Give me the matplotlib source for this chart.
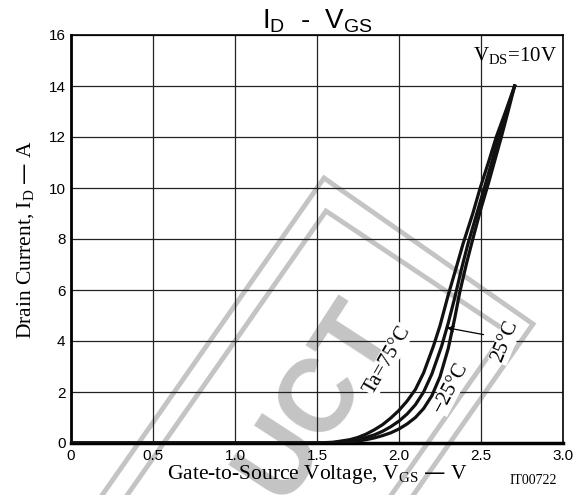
import matplotlib
matplotlib.use("Agg")
import matplotlib.pyplot as plt
import numpy as np

# drain current vs gate voltage, VDS = 10V
vgs_75 = [0, 1.5, 1.6, 1.7, 1.75, 1.8, 1.85, 1.9, 1.95, 2.0, 2.05, 2.1, 2.15, 2.21, 2.25, 2.30, 2.35, 2.39, 2.45, 2.495, 2.55, 2.593, 2.65, 2.705]
id_75 = [0, 0, 0.03, 0.13, 0.22, 0.35, 0.52, 0.72, 0.98, 1.28, 1.65, 2.1, 2.75, 3.8, 4.6, 5.8, 6.9, 7.8, 9.0, 10.0, 11.1, 12.0, 13.0, 14.0]

vgs_25 = [0, 1.55, 1.65, 1.7, 1.75, 1.8, 1.85, 1.9, 1.95, 2.0, 2.05, 2.1, 2.15, 2.2, 2.26, 2.3, 2.34, 2.38, 2.42, 2.47, 2.52, 2.565, 2.607, 2.655, 2.705]
id_25 = [0, 0, 0.04, 0.08, 0.14, 0.22, 0.32, 0.46, 0.64, 0.86, 1.14, 1.5, 2.0, 2.7, 3.8, 4.7, 5.7, 6.8, 7.8, 8.9, 10.0, 11.0, 12.0, 13.0, 14.0]

vgs_m25 = [0, 1.6, 1.7, 1.75, 1.8, 1.85, 1.9, 1.95, 2.0, 2.05, 2.1, 2.15, 2.2, 2.25, 2.3, 2.34, 2.37, 2.41, 2.45, 2.5, 2.546, 2.585, 2.624, 2.665, 2.705]
id_m25 = [0, 0, 0.04, 0.08, 0.13, 0.2, 0.29, 0.4, 0.55, 0.75, 1.0, 1.35, 1.85, 2.6, 3.7, 4.9, 5.9, 7.0, 8.0, 9.2, 10.2, 11.1, 12.0, 13.0, 14.0]

xticks = [0, 0.5, 1.0, 1.5, 2.0, 2.5, 3.0]
xlabels = ["0", "0.5", "1.0", "1.5", "2.0", "2.5", "3.0"]
yticks = [0, 2, 4, 6, 8, 10, 12, 14, 16]

serif = "Liberation Serif"
sans = "Liberation Sans"

fig = plt.figure(figsize=(5.87, 4.95), dpi=100)

# watermark layer (pixel coords of the page)
wm = fig.add_axes([0, 0, 1, 1], zorder=0)
wm.set_xlim(0, 587)
wm.set_ylim(495, 0)
wm.axis("off")
gray = "#c4c4c4"
top = np.array([324, 178])
right = np.array([533, 324])
down = np.array([-0.573, 0.819]) * 700
outer = np.array([top + down, top, right, right + down])
wm.plot(outer[:, 0], outer[:, 1], color=gray, lw=3.5, solid_joinstyle="miter")
top_i = np.array([326, 211])
right_i = np.array([506, 331])
inner = np.array([top_i + down, top_i, right_i, right_i + down])
wm.plot(inner[:, 0], inner[:, 1], color=gray, lw=3.5, solid_joinstyle="miter")
wm.text(318, 400, "UCT", rotation=57, color=gray, fontsize=74, fontweight="bold",
        family=sans, ha="center", va="center", rotation_mode="anchor", clip_on=True)

ax = fig.add_axes([71 / 587, 52 / 495, 492 / 587, 408 / 495], zorder=1)
ax.patch.set_alpha(0)

ax.plot(vgs_75, id_75, color="#111111", lw=2.3, zorder=3)
ax.plot(vgs_25, id_25, color="#111111", lw=2.3, zorder=3)
ax.plot(vgs_m25, id_m25, color="#111111", lw=2.3, zorder=3)

ax.set_xlim(0, 3.0)
ax.set_ylim(0, 16)
ax.set_xticks(xticks)
ax.set_xticklabels(xlabels, family=sans, fontsize=11)
ax.set_yticks(yticks)
ax.set_yticklabels([str(v) for v in yticks], family=sans, fontsize=11)
ax.tick_params(length=0, pad=4)
ax.grid(True, color="#222222", lw=0.9)
ax.set_axisbelow(True)
for s in ["top", "right"]:
    ax.spines[s].set_linewidth(1.2)
ax.spines["left"].set_linewidth(2)
ax.spines["bottom"].set_linewidth(2.5)

ax.set_title(r"$\mathregular{I_D}$  -  $\mathregular{V_{GS}}$", family=sans, fontsize=20, pad=2)
ax.set_xlabel(r"Gate-to-Source Voltage, $\mathregular{V_{GS}}$ — V", family=serif, fontsize=15.5, labelpad=0)
ax.set_ylabel(r"Drain Current, $\mathregular{I_D}$ — A", family=serif, fontsize=15.5, labelpad=9)

box = dict(facecolor="white", edgecolor="none", pad=0.5)
ax.text(1.93, 3.27, "Ta=75°C", rotation=60, family=serif, fontsize=15, ha="center", va="center",
        rotation_mode="anchor", bbox=box, zorder=4)
ax.text(2.318, 2.17, "−25°C", rotation=62, family=serif, fontsize=15, ha="center", va="center",
        rotation_mode="anchor", bbox=box, zorder=4)
ax.text(2.648, 3.97, "25°C", rotation=68, family=serif, fontsize=15, ha="center", va="center",
        rotation_mode="anchor", bbox=box, zorder=4)
ax.annotate("", xy=(2.275, 4.54), xytext=(2.532, 4.23),
            arrowprops=dict(arrowstyle="->", color="black", lw=0.9), zorder=4)
ax.text(2.705, 15.2, r"$\mathregular{V_{DS}}$=10V", family=serif, fontsize=15, ha="center", va="center", zorder=4)

fig.text(533 / 587, 1 - 481 / 495, "IT00722", family=serif, fontsize=10, ha="center", va="center")

fig.savefig("out.png", dpi=100)
